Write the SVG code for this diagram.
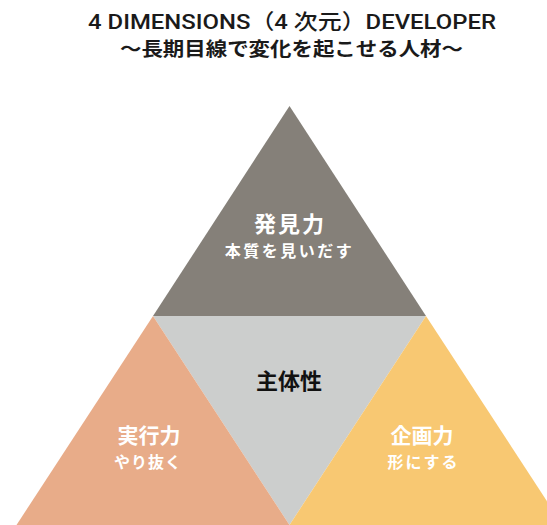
<svg xmlns="http://www.w3.org/2000/svg" width="547" height="525" viewBox="0 0 547 525">
<style>
.t{font-family:"Noto Sans CJK JP","Noto Sans",sans-serif;text-anchor:middle;font-weight:bold}
.w{fill:#ffffff}
.title{text-anchor:middle;fill:#1a1a1a}
</style>
<rect width="547" height="525" fill="#ffffff"/>
<g id="title">
<text class="title" x="292" y="29" font-family="Roboto,'Noto Sans CJK JP',sans-serif" font-size="21" font-weight="500" textLength="408" lengthAdjust="spacingAndGlyphs">4 DIMENSIONS（4 次元）DEVELOPER</text>
<text class="title" x="291.5" y="55.5" font-family="'Noto Sans CJK JP','Noto Sans',sans-serif" font-size="19" font-weight="bold" textLength="343" lengthAdjust="spacingAndGlyphs">〜長期目線で変化を起こせる人材〜</text>
</g>
<g id="hakken">
<polygon points="289.5,106 153,316 426,316" fill="#858079"/>
<text class="t w" x="290" y="232" font-size="22" letter-spacing="2">発見力</text>
<text class="t w" x="289.5" y="257" font-size="16" letter-spacing="2.5">本質を見いだす</text>
</g>
<g id="shutai">
<polygon points="153,316 426,316 289.5,525" fill="#CCCECD"/>
<text class="t" x="289" y="389" font-size="22" fill="#111111">主体性</text>
</g>
<g id="jikkou">
<polygon points="153,316 16.5,525 289.5,525" fill="#E8AC89"/>
<text class="t w" x="149" y="443" font-size="21">実行力</text>
<text class="t w" x="148" y="468" font-size="16" letter-spacing="1">やり抜く</text>
</g>
<g id="kikaku">
<polygon points="426,316 289.5,525 562.5,525" fill="#F8C872"/>
<text class="t w" x="422" y="443" font-size="21">企画力</text>
<text class="t w" x="423.5" y="468" font-size="16" letter-spacing="2">形にする</text>
</g>
<g id="connectors"/>
</svg>
